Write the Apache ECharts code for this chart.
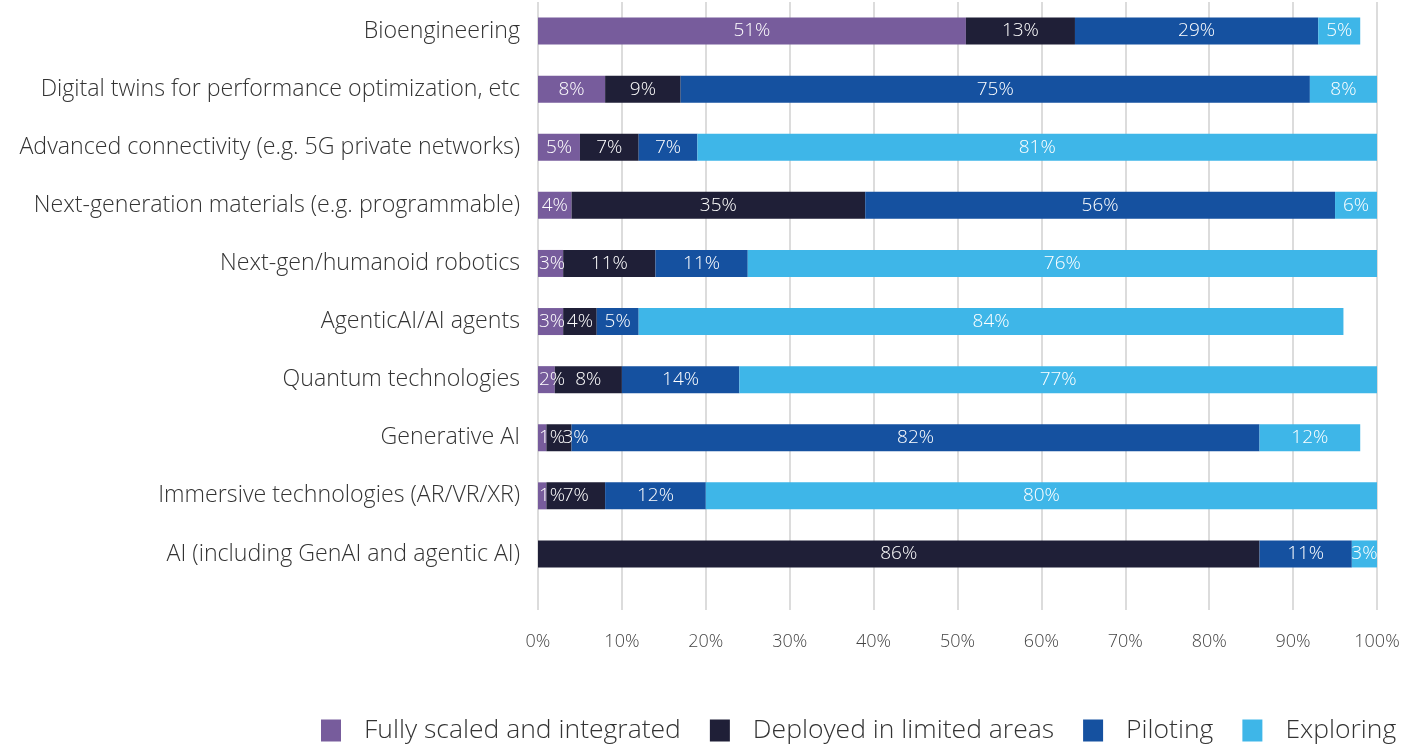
<!DOCTYPE html>
<html>
<head>
<meta charset="utf-8">
<script src="https://cdn.jsdelivr.net/npm/echarts@6/dist/echarts.min.js"></script>
<style>
html,body{margin:0;padding:0;background:#fff;}
#chart{width:1423px;height:748px;}
</style>
</head>
<body>
<div id="chart"></div>
<script>
const categories = [
  "Bioengineering",
  "Digital twins for performance optimization, etc",
  "Advanced connectivity (e.g. 5G private networks)",
  "Next-generation materials (e.g. programmable)",
  "Next-gen/humanoid robotics",
  "AgenticAI/AI agents",
  "Quantum technologies",
  "Generative AI",
  "Immersive technologies (AR/VR/XR)",
  "AI (including GenAI and agentic AI)"
];
const seriesNames = ["Fully scaled and integrated", "Deployed in limited areas", "Piloting", "Exploring"];
const fullyScaled = [51, 8, 5, 4, 3, 3, 2, 1, 1, 0];
const deployedLimited = [13, 9, 7, 35, 11, 4, 8, 3, 7, 86];
const piloting = [29, 75, 7, 56, 11, 5, 14, 82, 12, 11];
const exploring = [5, 8, 81, 6, 76, 84, 77, 12, 80, 3];
const tickLabels = ["0%", "10%", "20%", "30%", "40%", "50%", "60%", "70%", "80%", "90%", "100%"];
const colors = ["#775C9C", "#1F1F37", "#1551A0", "#3EB6E8"];

const FONT = "Open Sans";
const chart = echarts.init(document.getElementById('chart'));
const values = [fullyScaled, deployedLimited, piloting, exploring];

function itemFor(i, idx, v) {
  if (i === 0 && v > 0 && v <= 3) {
    return {value: v, label: {position: 'insideLeft', distance: 1}};
  }
  if (i === 1 && v <= 3 && fullyScaled[idx] > 0 && fullyScaled[idx] <= 3) {
    return {value: v, label: {position: 'insideLeft', distance: 1, offset: [15, 0]}};
  }
  return v;
}

chart.setOption({
  animation: false,
  textStyle: {fontFamily: FONT},
  grid: {left: 538, right: 46, top: 2, height: 581, containLabel: false},
  legend: {
    bottom: -1,
    left: 316,
    itemWidth: 20,
    itemHeight: 22,
    itemGap: 29,
    icon: 'rect',
    textStyle: {fontFamily: FONT, fontWeight: 300, fontSize: 26.5, color: '#333', padding: [0, 0, 0, 18]},
    data: seriesNames
  },
  xAxis: {
    type: 'value',
    min: 0,
    max: 100,
    interval: 10,
    axisLine: {show: false},
    axisTick: {show: true, length: 27, lineStyle: {color: '#DCDCDC', width: 2}},
    splitLine: {show: true, lineStyle: {color: '#DCDCDC', width: 2}},
    axisLabel: {
      margin: 50,
      fontFamily: FONT,
      fontWeight: 300,
      fontSize: 18,
      color: '#444',
      formatter: (v) => tickLabels[Math.round(v / 10)]
    }
  },
  yAxis: {
    type: 'category',
    inverse: true,
    data: categories,
    axisLine: {show: false},
    axisTick: {show: false},
    axisLabel: {margin: 18, fontFamily: FONT, fontWeight: 300, fontSize: 23.2, color: '#333'}
  },
  series: seriesNames.map((name, i) => ({
    name: name,
    type: 'bar',
    stack: 'total',
    barWidth: 27,
    itemStyle: {color: colors[i]},
    label: {
      show: true,
      position: 'inside',
      color: '#fff',
      fontFamily: FONT,
      fontWeight: 300,
      fontSize: 19,
      formatter: (p) => p.value ? p.value + '%' : ''
    },
    data: values[i].map((v, idx) => itemFor(i, idx, v))
  }))
});
</script>
</body>
</html>
